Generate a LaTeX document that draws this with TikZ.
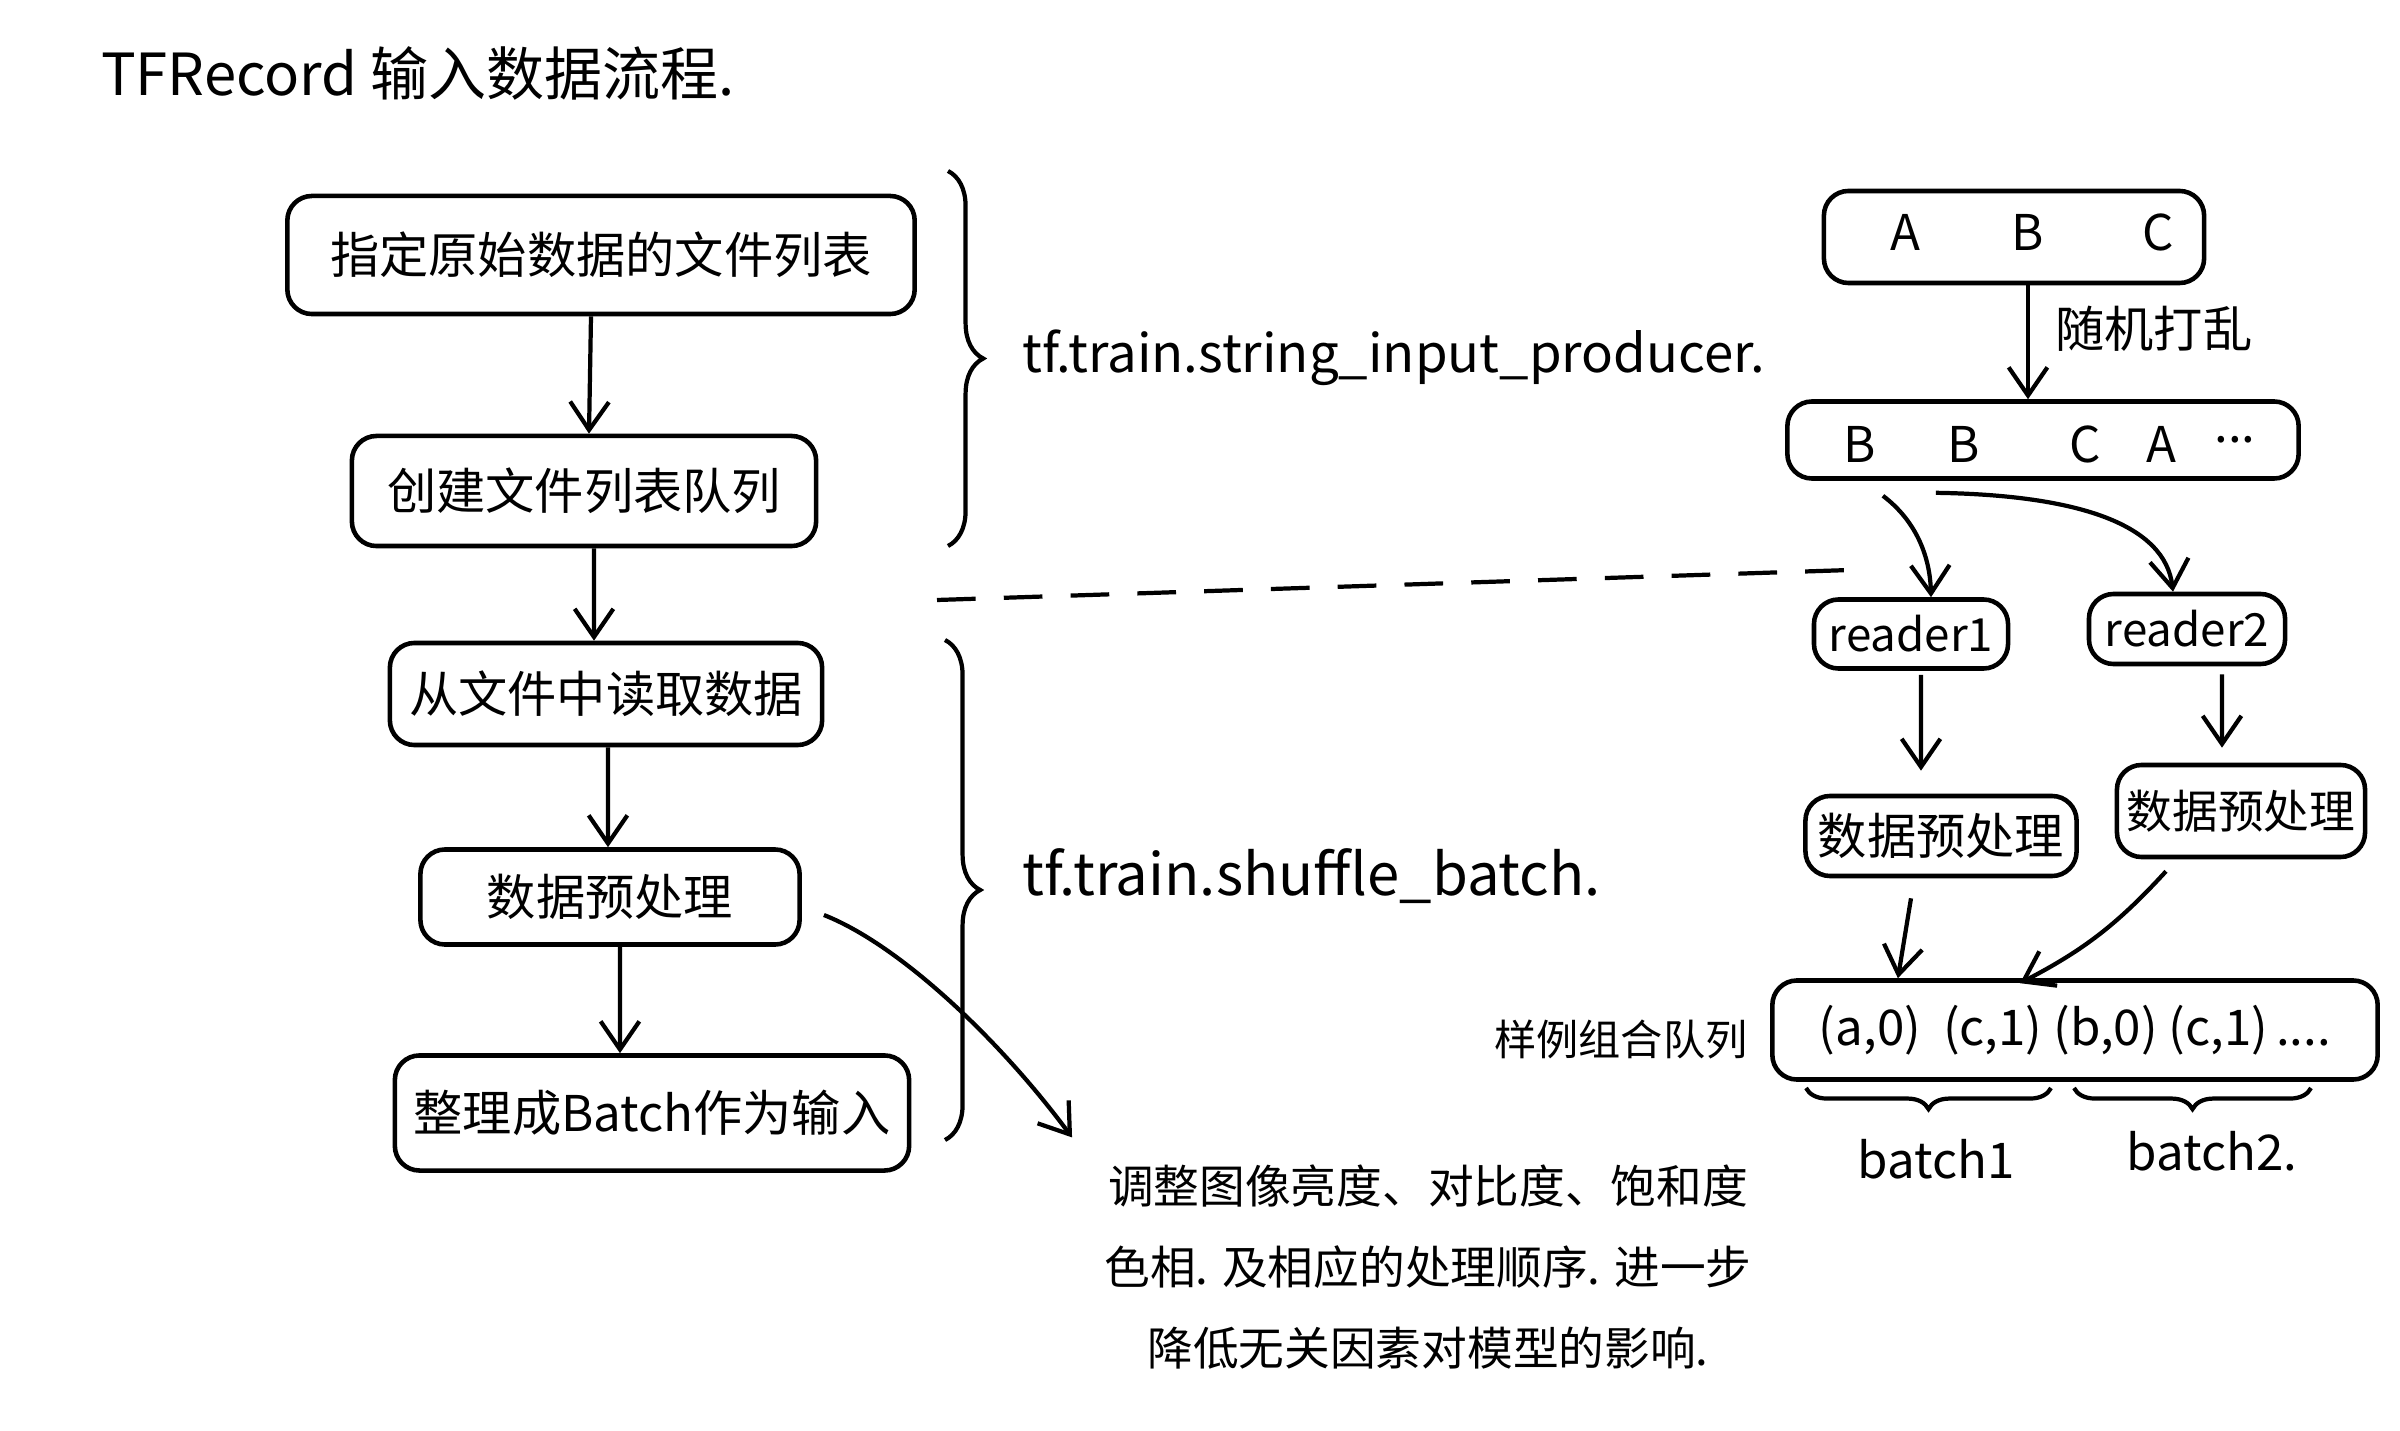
\documentclass[tikz,border=0pt]{standalone}
\usepackage{fontspec}
\setmainfont{Noto Sans CJK SC}
\usetikzlibrary{arrows.meta,decorations.pathreplacing}
\begin{document}
\begin{tikzpicture}[x=0.01cm,y=-0.01cm,
  box/.style={draw,line width=1.3pt,rounded corners=7pt,inner sep=0pt,align=center},
  big/.style={font=\fontsize{14}{16}\selectfont},
  mid/.style={font=\fontsize{13}{15}\selectfont},
  arr/.style={line width=1.2pt,-{Straight Barb[length=8pt,width=11pt,line width=1.2pt]}},
  vbrace/.style={line width=1.2pt,decorate,decoration={brace,amplitude=10pt}},
  hbrace/.style={line width=1.2pt,decorate,decoration={brace,mirror,amplitude=6pt}},
  ln/.style={line width=1.2pt}]
\fill[white] (0,0) rectangle (2400,1431);
\useasboundingbox (0,0) rectangle (2400,1431);

% title
\node[font=\fontsize{16.5}{18}\selectfont] (title) at (418,73) {TFRecord 输入数据流程.};

% left flow
\node[box,big,minimum width=6.27cm,minimum height=1.18cm] (b1) at (601,255) {指定原始数据的文件列表};
\node[box,big,minimum width=4.64cm,minimum height=1.10cm] (b2) at (584,491) {创建文件列表队列};
\node[box,big,minimum width=4.32cm,minimum height=1.02cm] (b3) at (606,694) {从文件中读取数据};
\node[box,big,minimum width=3.79cm,minimum height=0.95cm] (b4) at (610,897) {数据预处理};
\node[box,big,minimum width=5.14cm,minimum height=1.15cm] (b5) at (652,1113) {整理成Batch作为输入};

\draw[arr] ([xshift=-0.1cm]b1.south) -- ([xshift=0.05cm]b2.north);
\draw[arr] ([xshift=0.1cm]b2.south) -- ([xshift=-0.12cm]b3.north);
\draw[arr] ([xshift=0.02cm]b3.south) -- ([xshift=-0.02cm]b4.north);
\draw[arr] ([xshift=0.1cm]b4.south) -- ([xshift=-0.32cm]b5.north);

% braces and API labels
\coordinate (br1t) at (948,171);
\coordinate (br1b) at (948,546);
\draw[vbrace] (br1t) -- (br1b);
\coordinate (br2t) at (945,640);
\coordinate (br2b) at (945,1140);
\draw[vbrace] (br2t) -- (br2b);
\node[font=\fontsize{15}{17}\selectfont,anchor=west] (lab1) at (1010,358) {tf.train.string\_input\_producer.};
\node[font=\fontsize{16.5}{18}\selectfont,anchor=west] (lab2) at (1010,876) {tf.train.shuffle\_batch.};

% dashed separator
\coordinate (d1) at (937,600);
\coordinate (d2) at (1850,570);
\draw[ln,dash pattern=on 11pt off 8pt] (d1) -- (d2);

% note
\node[mid,align=center,font=\fontsize{13}{23}\selectfont] (note) at (1428,1267)
  {调整图像亮度、对比度、饱和度\\色相. 及相应的处理顺序. 进一步\\降低无关因素对模型的影响.};
\draw[arr] ([shift={(22,18)}]b4.east) .. controls (900,945) and (1000,1040) .. ([shift={(-20,-15)}]note.north west);

% right side
\node[box,minimum width=3.80cm,minimum height=0.92cm] (abc) at (2014,237) {};
\node[big] (la) at (1905,232) {A};
\node[big] (lb) at (2028,232) {B};
\node[big] (lc) at (2158,232) {C};
\node[box,minimum width=5.11cm,minimum height=0.77cm] (bbca) at (2043,440) {};
\node[big] (m1) at (1860,444) {B};
\node[big] (m2) at (1964,444) {B};
\node[big] (m3) at (2085,444) {C};
\node[big] (m4) at (2161,444) {A};
\node[big] (m5) at (2235,440) {...};
\draw[arr] (abc.south -| lb) -- (bbca.north -| lb);
\node[big,anchor=west] (shuf) at (2043,329) {随机打乱};

\node[box,mid,minimum width=1.94cm,minimum height=0.69cm] (r1) at (1911,634) {reader1};
\node[box,mid,minimum width=1.96cm,minimum height=0.70cm] (r2) at (2187,629) {reader2};
\draw[arr] ([xshift=-1.6cm,yshift=-0.15cm]bbca.south) .. controls (1915,520) and (1930,555) .. ([xshift=0.2cm]r1.north);
\draw[arr] ([xshift=-1.07cm,yshift=-0.12cm]bbca.south) .. controls (2080,495) and (2165,525) .. ([xshift=-0.14cm]r2.north);

\node[box,big,minimum width=2.71cm,minimum height=0.80cm] (p1) at (1941,836) {数据预处理};
\node[box,mid,minimum width=2.48cm,minimum height=0.92cm] (p2) at (2241,811) {数据预处理};
\draw[arr] ([xshift=0.1cm,yshift=-0.04cm]r1.south) -- ([xshift=-0.2cm,yshift=0.23cm]p1.north);
\draw[arr] ([xshift=0.35cm,yshift=-0.08cm]r2.south) -- ([xshift=-0.19cm,yshift=0.15cm]p2.north);

\node[box,font=\fontsize{14}{16}\selectfont,minimum width=6.05cm,minimum height=0.99cm] (queue) at (2075,1030) {(a,0)\ \ (c,1)\ (b,0)\ (c,1)\,....};
\node[font=\fontsize{12}{14}\selectfont,anchor=east] (qlab) at (1760,1040) {样例组合队列};
\draw[arr] ([xshift=-0.3cm,yshift=-0.2cm]p1.south) -- ([xshift=-1.77cm]queue.north);
\draw[arr] ([xshift=-0.75cm,yshift=-0.12cm]p2.south) to[bend left=10] ([xshift=-0.55cm,yshift=-0.05cm]queue.north);

\coordinate (q1a) at (1806,1088);
\coordinate (q1b) at (2051,1088);
\coordinate (q2a) at (2074,1088);
\coordinate (q2b) at (2311,1088);
\draw[hbrace] (q1a) -- (q1b);
\draw[hbrace] (q2a) -- (q2b);
\node[big] (bt1) at (1936,1159) {batch1};
\node[big] (bt2) at (2212,1151) {batch2.};
\end{tikzpicture}
\end{document}
